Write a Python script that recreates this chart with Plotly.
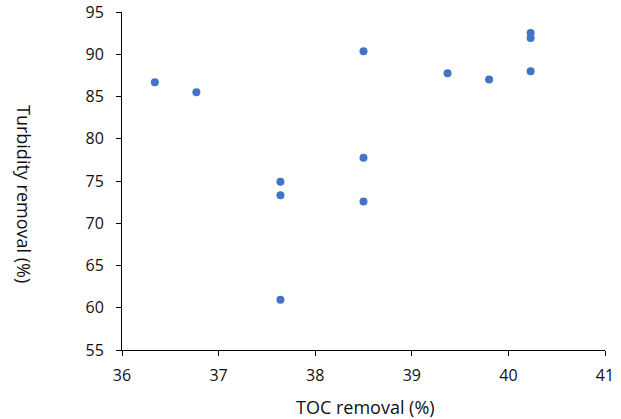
import plotly.graph_objects as go

toc_removal = [36.34, 36.77, 37.64, 37.64, 37.64, 38.50, 38.50, 38.50, 39.37, 39.80, 40.23, 40.23, 40.23]
turbidity_removal = [86.7, 85.5, 74.9, 73.3, 60.95, 90.35, 77.76, 72.57, 87.75, 87.0, 92.52, 91.93, 87.99]

x_title = "TOC removal (%)"
y_title = "Turbidity removal (%)"

font_family = "Open Sans, Noto Sans, sans-serif"

W, H = 621, 419
ML, MR, MT, MB = 122, 16, 12, 69
PW, PH = W - ML - MR, H - MT - MB


def px_to_paper_x(px):
    return (px - ML) / PW


def px_to_paper_y(py):
    return (H - MB - py) / PH


fig = go.Figure(go.Scatter(
    x=toc_removal, y=turbidity_removal, mode="markers",
    marker=dict(color="#4472C4", size=8),
))

axis_common = dict(
    showgrid=False, zeroline=False, showline=True, linecolor="black", linewidth=1,
    ticks="outside", ticklen=5, tickcolor="black", tickwidth=1,
    tickfont=dict(family=font_family, size=16, color="#111111"),
    mirror=False, automargin=False,
)

fig.update_layout(
    width=W, height=H,
    margin=dict(l=ML, r=MR, t=MT, b=MB),
    paper_bgcolor="white", plot_bgcolor="white",
    showlegend=False,
    xaxis=dict(range=[36, 41], dtick=1, ticklabelstandoff=6, **axis_common),
    yaxis=dict(range=[55, 95], dtick=5, ticklabelstandoff=9, **axis_common),
    annotations=[
        dict(text=x_title, x=px_to_paper_x(365), y=px_to_paper_y(407), xref="paper", yref="paper",
             showarrow=False, xanchor="center", yanchor="middle",
             font=dict(family=font_family, size=18, color="#111111")),
        dict(text=y_title, x=px_to_paper_x(24), y=px_to_paper_y(194), xref="paper", yref="paper",
             showarrow=False, textangle=90, xanchor="center", yanchor="middle",
             font=dict(family=font_family, size=18, color="#111111")),
    ],
)

fig.write_html(
    "out.html",
    config={"displayModeBar": False},
    post_script="document.body.style.margin='0';document.body.style.overflow='hidden';",
)
